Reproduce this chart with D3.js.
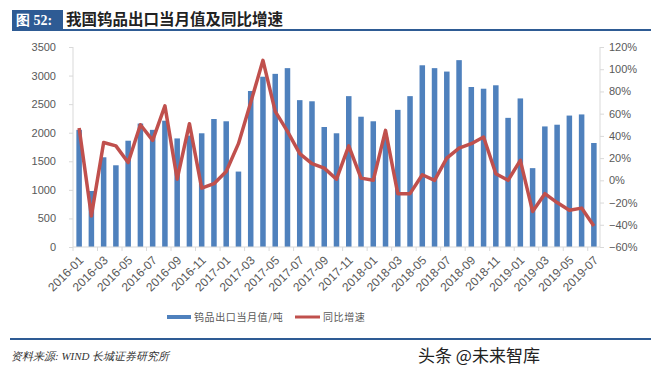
<!DOCTYPE html>
<meta charset="utf-8">
<style>
  body { margin: 0; background: #fff; }
  svg { display: block; }
  .tick text { font: 11px "Liberation Sans", Arial, sans-serif; fill: #595959; }
</style>
<svg width="663" height="376"></svg>
<script src="https://cdnjs.cloudflare.com/ajax/libs/d3/7.8.5/d3.min.js"></script>
<script>

  // data
  var months = ["2016-01","2016-02","2016-03","2016-04","2016-05","2016-06","2016-07","2016-08","2016-09","2016-10","2016-11","2016-12",
                "2017-01","2017-02","2017-03","2017-04","2017-05","2017-06","2017-07","2017-08","2017-09","2017-10","2017-11","2017-12",
                "2018-01","2018-02","2018-03","2018-04","2018-05","2018-06","2018-07","2018-08","2018-09","2018-10","2018-11","2018-12",
                "2019-01","2019-02","2019-03","2019-04","2019-05","2019-06","2019-07"];
  var exportTons = [2050, 980, 1570, 1430, 1860, 2160, 2050, 2210, 1900, 1950, 1990, 2240,
                    2200, 1320, 2730, 2980, 3030, 3130, 2570, 2550, 2100, 1990, 2640, 2280,
                    2200, 1920, 2400, 2640, 3180, 3130, 3070, 3270, 2800, 2770, 2830, 2260,
                    2600, 1380, 2110, 2140, 2300, 2320, 1820];
  var yoy = [47, -32, 34, 31, 16, 50, 36, 67, 1, 51, -7, -3,
             8, 33, 70, 108, 62, 44, 24, 15, 11, 1, 31, 2,
             0, 45, -12, -12, 5, 0, 20, 29, 33, 39, 6, 0,
             18, -28, -12, -20, -27, -25, -41];
  var leftTicks = [0, 500, 1000, 1500, 2000, 2500, 3000, 3500];
  var rightTicks = [-60, -40, -20, 0, 20, 40, 60, 80, 100, 120];
  var tickMonths = months.filter(function(d, i) { return i % 2 === 0; });

  var barColor = "#4f81bd", lineColor = "#c0504d", axisColor = "#d9d9d9";
  var plotL = 73, plotR = 600, plotT = 47, plotB = 247;

  var svg = d3.select("svg");

  // title
  svg.append("rect").attr("x", 12).attr("y", 10).attr("width", 51).attr("height", 19).attr("fill", "#2e5b94");
  svg.append("text").attr("x", 16).attr("y", 25)
    .style("font", "bold 14px 'Liberation Serif', serif").attr("fill", "#fff")
    .text("图 52:");
  svg.append("text").attr("x", 66).attr("y", 25)
    .style("font", "bold 15.5px 'Noto Sans CJK SC', sans-serif").attr("fill", "#222")
    .text("我国钨品出口当月值及同比增速");
  svg.append("line").attr("x1", 12).attr("x2", 651).attr("y1", 30).attr("y2", 30)
    .attr("stroke", "#2e5b94").attr("stroke-width", 2);

  // scales
  var x = d3.scaleBand().domain(months).range([plotL, plotR]).paddingInner(0.55).paddingOuter(0.275);
  var xStep = d3.scaleBand().domain(months).range([plotL, plotR]);
  var y = d3.scaleLinear().domain([0, 3500]).range([plotB, plotT]);
  var y2 = d3.scaleLinear().domain([-60, 120]).range([plotB, plotT]);

  // bars
  svg.append("g").selectAll("rect")
    .data(exportTons)
    .enter().append("rect")
      .attr("x", function(d, i) { return x(months[i]); })
      .attr("width", x.bandwidth())
      .attr("y", function(d) { return y(d); })
      .attr("height", function(d) { return plotB - y(d); })
      .attr("fill", barColor);

  // axes
  var gl = svg.append("g").attr("transform", "translate(" + plotL + ",0)")
    .call(d3.axisLeft(y).tickValues(leftTicks).tickSize(4).tickPadding(13).tickFormat(d3.format("d")));
  var gr = svg.append("g").attr("transform", "translate(" + plotR + ",0)")
    .call(d3.axisRight(y2).tickValues(rightTicks).tickSize(4).tickPadding(5)
      .tickFormat(function(d) { return (d < 0 ? "\u2212" : "") + Math.abs(d) + "%"; }));
  var gx = svg.append("g").attr("transform", "translate(0," + plotB + ")")
    .call(d3.axisBottom(xStep).tickValues(tickMonths).tickSize(0).tickPadding(0));
  gx.selectAll(".tick text")
    .style("font-size", "12px")
    .attr("text-anchor", "end")
    .attr("y", 0)
    .attr("dy", 0)
    .attr("transform", "translate(5,14) rotate(-45)");
  // tick marks at band boundaries
  gx.selectAll(".bnd")
    .data(tickMonths)
    .enter().append("line")
      .attr("x1", function(d) { return xStep(d); })
      .attr("x2", function(d) { return xStep(d); })
      .attr("y1", 0).attr("y2", 4)
      .attr("stroke", axisColor);
  [gl, gr, gx].forEach(function(g) {
    g.selectAll(".domain, .tick line").attr("stroke", axisColor);
  });
  gx.select(".domain").attr("d", "M" + plotL + ",0H" + plotR);
  gl.select(".domain").attr("d", "M0," + plotT + "V" + plotB);
  gr.select(".domain").attr("d", "M0," + plotT + "V" + plotB);

  // line
  var line = d3.line()
    .x(function(d, i) { return xStep(months[i]) + xStep.bandwidth() / 2; })
    .y(function(d) { return y2(d); });
  svg.append("path").datum(yoy)
    .attr("d", line)
    .attr("fill", "none")
    .attr("stroke", lineColor)
    .attr("stroke-width", 3.5)
    .attr("stroke-linejoin", "round");

  // legend
  var lg = svg.append("g").style("font", "10px 'Noto Sans CJK SC', sans-serif")
    .style("letter-spacing", "0.6px").attr("fill", "#595959");
  lg.append("rect").attr("x", 167).attr("y", 315).attr("width", 24).attr("height", 4).attr("fill", barColor);
  lg.append("text").attr("x", 194).attr("y", 321).text("钨品出口当月值/吨");
  lg.append("line").attr("x1", 295).attr("x2", 320).attr("y1", 317).attr("y2", 317)
    .attr("stroke", lineColor).attr("stroke-width", 3);
  lg.append("text").attr("x", 323).attr("y", 321).text("同比增速");

  // footer
  svg.append("line").attr("x1", 10).attr("x2", 651).attr("y1", 339).attr("y2", 339)
    .attr("stroke", "#2e5b94").attr("stroke-width", 2);
  svg.append("text").attr("x", 11).attr("y", 360)
    .style("font", "italic 11px 'Liberation Serif', serif").attr("fill", "#333")
    .text("资料来源: WIND 长城证券研究所");
  svg.append("text").attr("x", 418).attr("y", 362)
    .style("font", "17px 'Noto Sans CJK SC', sans-serif").attr("fill", "#222")
    .text("头条 @未来智库");

</script>
